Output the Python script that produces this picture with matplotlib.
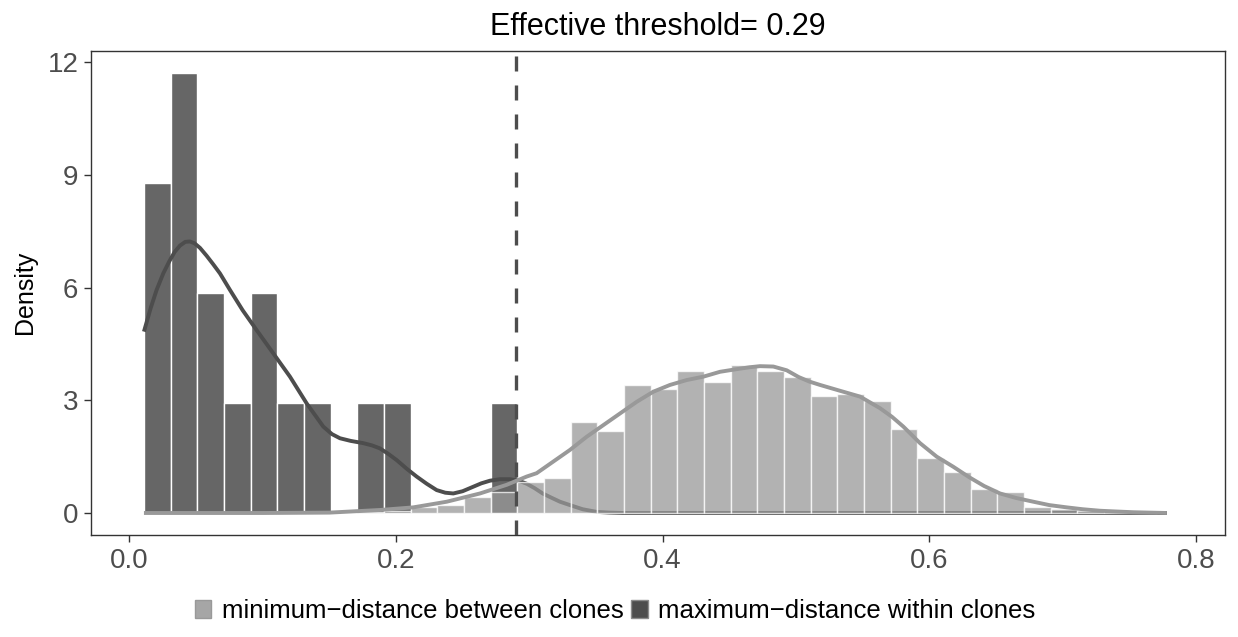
import matplotlib
matplotlib.use("Agg")
import matplotlib.pyplot as plt
from matplotlib.patches import Patch
import numpy as np

plt.rcParams['font.family'] = ['Liberation Sans', 'DejaVu Sans']

# ---- data ----
bin_start = 0.011
bin_width = 0.02

# "maximum-distance within clones" histogram densities (bins from 0.011, width 0.02)
within_hist = [8.79, 11.72, 5.86, 2.93, 5.86, 2.93, 2.93, 0.0, 2.93, 2.93, 0.0, 0.0, 0.0, 2.93]

# "minimum-distance between clones" histogram densities
between_hist = [0, 0, 0, 0, 0, 0, 0, 0, 0.03, 0.06,
                0.16, 0.20, 0.43, 0.57, 0.83, 0.94, 2.43, 2.18, 3.41, 3.30,
                3.78, 3.48, 3.93, 3.78, 3.62, 3.12, 3.16, 2.98, 2.23, 1.47,
                1.08, 0.63, 0.55, 0.15, 0.10, 0.04, 0.01, 0.0]

# density curves
within_dens_x = [0.011, 0.016, 0.0205, 0.0255, 0.030, 0.034, 0.038, 0.042, 0.0455, 0.049,
                 0.053, 0.058, 0.063, 0.068, 0.0755, 0.085, 0.0955, 0.108, 0.1205, 0.133,
                 0.1455, 0.152, 0.158, 0.166, 0.1755, 0.182, 0.188, 0.194, 0.2005, 0.208,
                 0.2155, 0.223, 0.2305, 0.237, 0.243, 0.250, 0.258, 0.264, 0.2705, 0.278,
                 0.2855, 0.292, 0.298, 0.304, 0.310, 0.317, 0.323, 0.3305, 0.340, 0.3505,
                 0.36, 0.37, 0.45, 0.6, 0.778]
within_dens_y = [4.83, 5.45, 5.94, 6.38, 6.70, 6.95, 7.12, 7.22, 7.23, 7.18,
                 7.06, 6.85, 6.62, 6.38, 5.94, 5.40, 4.87, 4.25, 3.63, 2.92,
                 2.30, 2.10, 1.99, 1.92, 1.86, 1.80, 1.72, 1.58, 1.41, 1.18,
                 0.97, 0.78, 0.61, 0.54, 0.52, 0.58, 0.70, 0.79, 0.86, 0.90,
                 0.90, 0.86, 0.78, 0.66, 0.52, 0.40, 0.30, 0.21, 0.10, 0.03,
                 0.01, 0.0, 0.0, 0.0, 0.0]

between_dens_x = [0.011, 0.10, 0.15, 0.188, 0.213, 0.238, 0.263, 0.283, 0.298, 0.3055,
                  0.318, 0.3305, 0.343, 0.3555, 0.368, 0.3805, 0.393, 0.4055, 0.418, 0.4305,
                  0.443, 0.4555, 0.465, 0.473, 0.483, 0.493, 0.502, 0.510, 0.518, 0.5305,
                  0.548, 0.563, 0.572, 0.5805, 0.593, 0.6055, 0.618, 0.630, 0.641, 0.653,
                  0.665, 0.678, 0.690, 0.703, 0.715, 0.728, 0.740, 0.753, 0.765, 0.778]
between_dens_y = [0.0, 0.0, 0.01, 0.08, 0.15, 0.30, 0.52, 0.75, 0.97, 1.06,
                  1.37, 1.68, 2.03, 2.34, 2.65, 2.96, 3.23, 3.41, 3.54, 3.63,
                  3.76, 3.83, 3.88, 3.91, 3.90, 3.80, 3.62, 3.50, 3.41, 3.28,
                  3.10, 2.79, 2.56, 2.30, 1.86, 1.50, 1.23, 0.95, 0.72, 0.52,
                  0.40, 0.30, 0.21, 0.15, 0.10, 0.06, 0.04, 0.02, 0.01, 0.0]

threshold = 0.29
title = "Effective threshold= 0.29"
legend_labels = ["minimum\u2212distance between clones", "maximum\u2212distance within clones"]
x_ticks = [0.0, 0.2, 0.4, 0.6, 0.8]
y_ticks = [0, 3, 6, 9, 12]

# ---- plot ----
W, H = 1238, 637
fig = plt.figure(figsize=(W / 100, H / 100), dpi=100)
ax = fig.add_axes([91 / W, (H - 535) / H, (1225 - 91) / W, (535 - 50.7) / H])

within_left = [bin_start + i * bin_width for i in range(len(within_hist))]
between_left = [bin_start + i * bin_width for i in range(len(between_hist))]

ax.bar(within_left, within_hist, width=bin_width, align='edge', color='#666666',
       edgecolor='white', linewidth=1.0, zorder=2)
ax.plot(within_dens_x, within_dens_y, color='#4D4D4D', lw=2.8, zorder=3,
        solid_capstyle='butt', solid_joinstyle='round')
ax.bar(between_left, between_hist, width=bin_width, align='edge', color='#999999', alpha=0.75,
       edgecolor='white', linewidth=1.0, zorder=4)
ax.plot(between_dens_x, between_dens_y, color='#999999', lw=2.8, zorder=5,
        solid_capstyle='butt', solid_joinstyle='round')

ax.axvline(threshold, color='#4D4D4D', lw=2.4, linestyle=(0, (4.5, 4.2)), zorder=6)

ax.set_xlim(-0.0287, 0.8217)
ax.set_ylim(-0.586, 12.31)
ax.set_xticks(x_ticks)
ax.set_xticklabels(["0.0", "0.2", "0.4", "0.6", "0.8"])
ax.set_yticks(y_ticks)
ax.set_yticklabels([str(v) for v in y_ticks])

for s in ax.spines.values():
    s.set_color('#333333')
    s.set_linewidth(1.0)
ax.tick_params(axis='both', length=5, width=1.0, color='#333333', labelcolor='#4D4D4D',
               labelsize=20, pad=4)

ax.set_ylabel("Density", fontsize=18, color='black', labelpad=8)
ax.set_title(title, fontsize=22, color='black', pad=11)

handles = [Patch(facecolor='#A6A6A6', edgecolor='#999999', linewidth=1.0),
           Patch(facecolor='#4D4D4D', edgecolor='#8C8C8C', linewidth=1.0)]
fig.legend(handles, legend_labels, loc='center', bbox_to_anchor=(615 / W, 1 - 611 / H), ncol=2,
           frameon=False, fontsize=18.5, handlelength=0.65, handleheight=0.65,
           handletextpad=0.4, columnspacing=0.3)

fig.savefig("out.png", dpi=100)
